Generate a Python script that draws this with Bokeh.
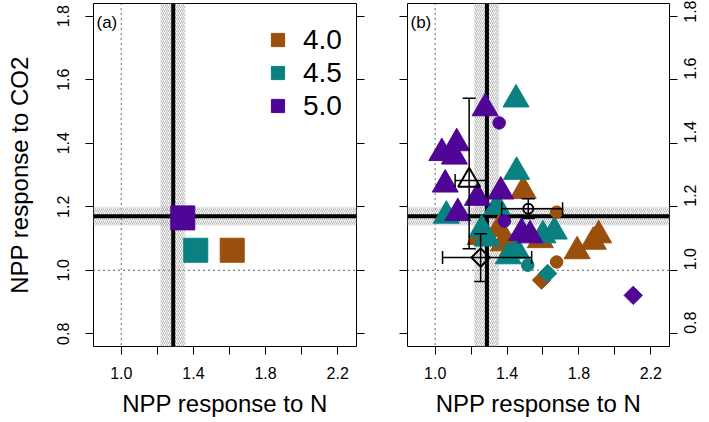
import math
from bokeh.plotting import figure
from bokeh.models import (Span, BoxAnnotation, LinearAxis, FixedTicker, NumeralTickFormatter,
                          CustomJSTickFormatter, Legend, LegendItem, Label)
from bokeh.layouts import row
from bokeh.embed import file_html
from bokeh.resources import INLINE

FONT = "Liberation Sans"

# ---------------- data ----------------
groups = ["4.0", "4.5", "5.0"]
colors = ["#9A4F0C", "#0A8080", "#4F0596"]

# axis limits and ticks
x_lim = [0.9, 2.25]
y_lim = [0.8, 1.8]
x_label_ticks = [1.0, 1.4, 1.8, 2.2]
x_minor_ticks = [1.2, 1.6, 2.0]
y_ticks = [0.8, 1.0, 1.2, 1.4, 1.6, 1.8]
ref_value = 1.0

# observed means and confidence bands
n_mean, n_lo, n_hi = 1.288, 1.220, 1.352
co2_mean, co2_lo, co2_hi = 1.170, 1.143, 1.197

# panel (a): ensemble means per group
a_n = [1.615, 1.413, 1.341]
a_co2 = [1.063, 1.063, 1.165]

# panel (b): individual models, triangles
tri_n_40 = [1.49, 1.25, 1.355, 1.38, 1.43, 1.585, 1.79, 1.88, 1.91]
tri_co2_40 = [1.25, 1.105, 1.13, 1.085, 1.07, 1.095, 1.06, 1.09, 1.11]
tri_n_45 = [1.45, 1.453, 1.062, 1.345, 1.259, 1.29, 1.407, 1.455, 1.60, 1.663]
tri_co2_45 = [1.538, 1.31, 1.172, 1.20, 1.128, 1.10, 1.044, 1.06, 1.11, 1.122]
tri_n_50 = [1.278, 1.037, 1.12, 1.107, 1.056, 1.126, 1.235, 1.365, 1.481, 1.528]
tri_co2_50 = [1.51, 1.369, 1.40, 1.358, 1.27, 1.18, 1.228, 1.248, 1.118, 1.11]
# circles
cir_n_40 = [1.676, 1.676]
cir_co2_40 = [1.183, 1.026]
cir_n_45 = [1.515]
cir_co2_45 = [1.016]
cir_n_50 = [1.356, 1.385]
cir_co2_50 = [1.464, 1.155]
# diamonds
dia_n_40 = [1.592]
dia_co2_40 = [0.969]
dia_n_45 = [1.626]
dia_co2_45 = [0.99]
dia_n_50 = [2.102]
dia_co2_50 = [0.921]

# summary (open symbols with error bars): triangle, circle, diamond
sum_n = [1.189, 1.518, 1.253]
sum_n_lo = [1.111, 1.370, 1.041]
sum_n_hi = [1.281, 1.709, 1.537]
sum_co2 = [1.283, 1.194, 1.040]
sum_co2_lo = [1.068, 1.163, 0.965]
sum_co2_hi = [1.542, 1.225, 1.115]

FRAME_H = 343


# ---------------- helpers ----------------
def padded(lim):
    d = (lim[1] - lim[0]) * 0.04
    return (lim[0] - d, lim[1] + d)


def style_axis(ax):
    ax.axis_line_color = None
    ax.major_tick_line_color = "black"
    ax.major_tick_out = 8
    ax.major_tick_in = 0
    ax.minor_tick_line_color = "black"
    ax.minor_tick_out = 8
    ax.minor_tick_in = 0
    ax.major_label_text_font = FONT
    ax.major_label_text_font_size = "16px"
    ax.major_label_text_color = "black"
    ax.axis_label_text_font = FONT
    ax.axis_label_text_font_size = "24px"
    ax.axis_label_text_font_style = "normal"
    ax.axis_label_text_color = "black"


def y_axis(with_labels):
    fmt = NumeralTickFormatter(format="0.0") if with_labels else CustomJSTickFormatter(code="return ''")
    ax = LinearAxis(ticker=FixedTicker(ticks=y_ticks), formatter=fmt)
    style_axis(ax)
    ax.major_label_standoff = 0
    return ax


def make_fig(width, left, right):
    p = figure(width=width, height=422, x_range=padded(x_lim), y_range=padded(y_lim),
               output_backend="svg", toolbar_location=None, y_axis_location=None,
               min_border_left=left, min_border_right=right,
               min_border_top=3, min_border_bottom=76)
    p.xgrid.visible = False
    p.ygrid.visible = False
    p.outline_line_color = "black"
    p.outline_line_width = 1
    p.outline_line_alpha = 1
    p.background_fill_color = "white"
    p.border_fill_color = "white"

    xax = p.xaxis[0]
    xax.ticker = FixedTicker(ticks=x_label_ticks, minor_ticks=x_minor_ticks)
    xax.formatter = NumeralTickFormatter(format="0.0")
    style_axis(xax)
    xax.major_label_standoff = 12
    xax.axis_label = "NPP response to N"
    xax.axis_label_standoff = 8

    # reference lines and observation bands
    for dim in ("height", "width"):
        p.add_layout(Span(location=ref_value, dimension=dim, line_color="black",
                          line_width=1.2, line_dash="1 4", level="underlay"))
    band_style = dict(fill_alpha=0, line_color="#c8c8c8", line_width=2,
                      hatch_pattern="/", hatch_color="#a0a0a0", hatch_scale=4,
                      hatch_weight=0.8, level="underlay")
    p.add_layout(BoxAnnotation(bottom=co2_lo, top=co2_hi, **band_style))
    p.add_layout(BoxAnnotation(left=n_lo, right=n_hi, **band_style))
    p.add_layout(Span(location=co2_mean, dimension="width", line_color="black",
                      line_width=4, level="underlay"))
    p.add_layout(Span(location=n_mean, dimension="height", line_color="black",
                      line_width=4, level="underlay"))
    return p


# ---------------- panel (a) ----------------
pa = make_fig(382, 93, 26)
la = y_axis(True)
la.major_label_orientation = "parallel"
la.major_label_standoff = 16
la.axis_label = "NPP response to CO2"
la.axis_label_standoff = 22
pa.add_layout(la, "left")
pa.add_layout(y_axis(False), "right")

ra = pa.scatter(a_n, a_co2, marker="square", size=24, color=colors, line_width=1)

items = [LegendItem(label=g, renderers=[ra], index=i) for i, g in enumerate(groups)]
leg = Legend(items=items, location=(168, 224), orientation="vertical",
             border_line_color=None, background_fill_alpha=0, padding=5, margin=0,
             spacing=0, glyph_width=33, glyph_height=33, label_standoff=9,
             label_height=33, label_text_font=FONT, label_text_font_size="28px",
             label_text_color="black")
pa.add_layout(leg)
pa.add_layout(Label(x=3, y=FRAME_H - 9, x_units="screen", y_units="screen", text="(a)",
                    text_font=FONT, text_font_size="17px", text_baseline="top",
                    text_color="black"))

# ---------------- panel (b) ----------------
pb = make_fig(327, 25, 40)
pb.add_layout(y_axis(False), "left")
rb = y_axis(True)
rb.major_label_orientation = math.pi / 2
rb.major_label_standoff = 13
pb.add_layout(rb, "right")

tri = [(tri_n_40, tri_co2_40), (tri_n_45, tri_co2_45), (tri_n_50, tri_co2_50)]
cir = [(cir_n_40, cir_co2_40), (cir_n_45, cir_co2_45), (cir_n_50, cir_co2_50)]
dia = [(dia_n_40, dia_co2_40), (dia_n_45, dia_co2_45), (dia_n_50, dia_co2_50)]
for (xs, ys), c in zip(tri, colors):
    pb.scatter(xs, ys, marker="triangle", size=26, color=c)
for (xs, ys), c in zip(cir, colors):
    pb.scatter(xs, ys, marker="circle", size=12.5, color=c)
for (xs, ys), c in zip(dia, colors):
    pb.scatter(xs, ys, marker="square", size=13, angle=math.pi / 4, color=c)

# error bars
pb.segment(sum_n_lo, sum_co2, sum_n_hi, sum_co2, line_color="black", line_width=1.5)
pb.segment(sum_n, sum_co2_lo, sum_n, sum_co2_hi, line_color="black", line_width=1.5)
pb.scatter(sum_n + sum_n, sum_co2_lo + sum_co2_hi, marker="dash", size=13,
           line_color="black", line_width=1.5)
pb.scatter(sum_n_lo + sum_n_hi, sum_co2 + sum_co2, marker="dash", size=13,
           angle=math.pi / 2, line_color="black", line_width=1.5)
pb.scatter(sum_n[0:1], sum_co2[0:1], marker="triangle", size=22, fill_color=None,
           line_color="black", line_width=2)
pb.scatter(sum_n[1:2], sum_co2[1:2], marker="circle", size=10, fill_color=None,
           line_color="black", line_width=2)
pb.scatter(sum_n[2:3], sum_co2[2:3], marker="square", size=13, angle=math.pi / 4,
           fill_color=None, line_color="black", line_width=2)

pb.add_layout(Label(x=3, y=FRAME_H - 9, x_units="screen", y_units="screen", text="(b)",
                    text_font=FONT, text_font_size="17px", text_baseline="top",
                    text_color="black"))

layout = row(pa, pb)
open("out.html", "w").write(file_html(layout, INLINE))
